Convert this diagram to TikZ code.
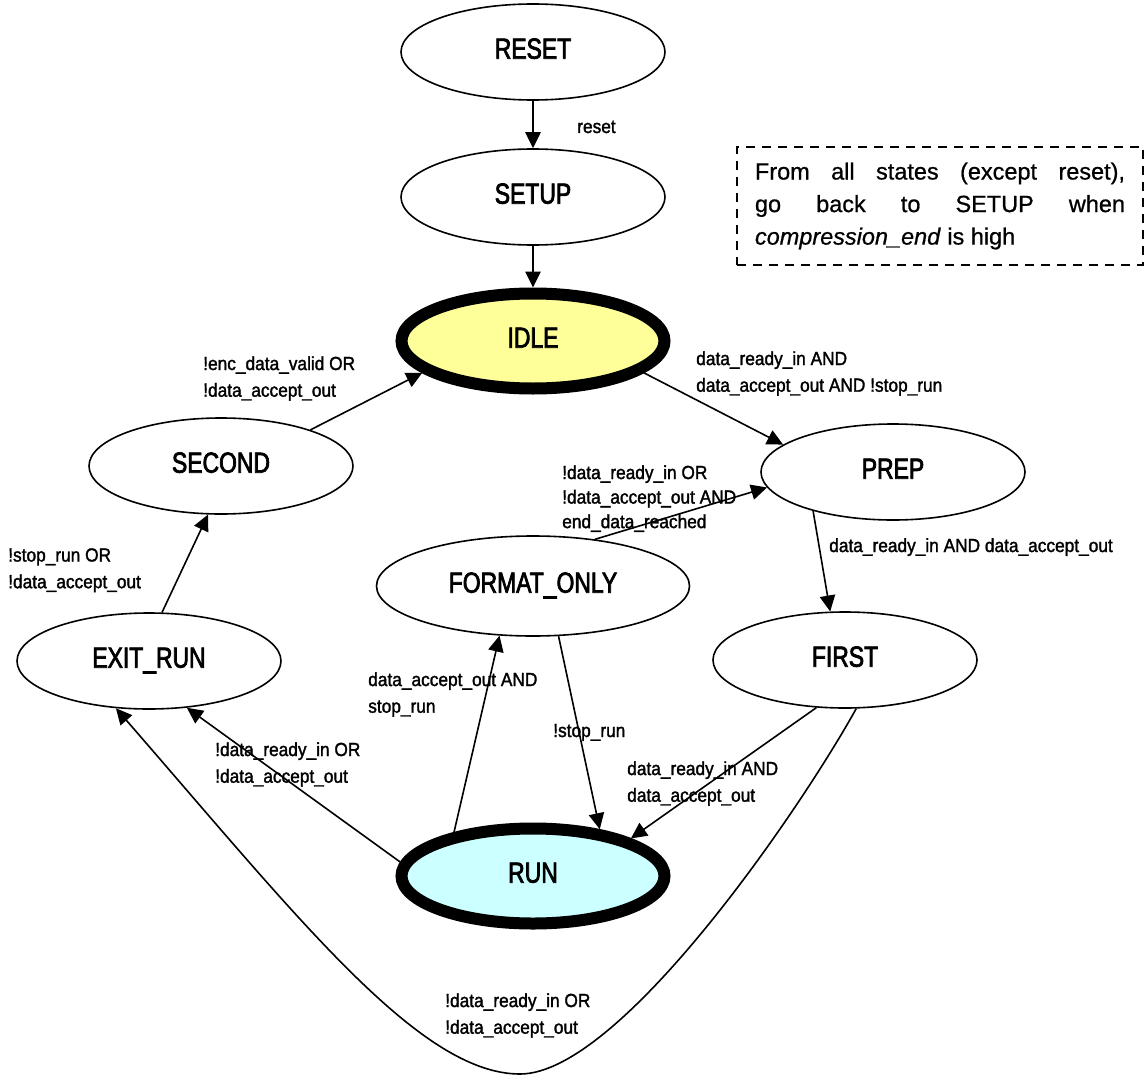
\documentclass[tikz,border=0pt]{standalone}
\usepackage{fontspec}
\setmainfont{Liberation Sans}
\newfontfamily\notefont[FakeBold=0.8]{Liberation Sans}
\newfontfamily\statefont[FakeStretch=0.79,FakeBold=2.5]{Liberation Sans}
\newfontfamily\condfont[FakeStretch=0.91,FakeBold=1.6]{Liberation Sans}
\usetikzlibrary{arrows.meta,shapes.geometric}
\definecolor{idlefill}{HTML}{FFFF99}
\definecolor{runfill}{HTML}{CCFFFF}
\tikzset{
  state/.style={ellipse, draw, line width=1.2pt, inner sep=0pt,
    minimum width=198pt, minimum height=72pt, text height=16pt, text depth=6pt,
    font=\statefont\fontsize{21.75}{26}\selectfont},
  hot/.style={state, line width=9pt, minimum width=197.25pt, minimum height=71.25pt},
  trans/.style={line width=1.2pt, -{Triangle[length=12pt,width=11.5pt]}},
  cond/.style={inner sep=0pt, align=left, anchor=north west,
    font=\condfont\fontsize{14.25}{20}\selectfont},
  cond1/.style={inner sep=0pt, anchor=base west,
    font=\condfont\fontsize{14.25}{20}\selectfont},
}
\begin{document}
\begin{tikzpicture}[x=0.75pt,y=-0.75pt]
\useasboundingbox (0,0) rectangle (1145,1077);

% states
\node[state] (reset) at (533,52) {RESET};
\node[state] (setup) at (533,197) {SETUP};
\node[hot, fill=idlefill] (idle) at (533,341) {IDLE};
\node[state] (second) at (221,466) {SECOND};
\node[state] (prep) at (893,472) {PREP};
\node[state, minimum width=234.75pt, minimum height=75pt] (fmt) at (533,586) {FORMAT\_ONLY};
\node[state] (exitrun) at (149,661) {EXIT\_RUN};
\node[state] (first) at (845,660) {FIRST};
\node[hot, fill=runfill] (run) at (533,876) {RUN};

% global reset note
\node[draw, dash pattern=on 7pt off 5pt, line width=1.5pt, text width=277.5pt,
  inner xsep=13.5pt, inner ysep=0pt, minimum height=88.5pt, align=justify,
  font=\notefont\fontsize{17.6}{24.4}\selectfont] (note) at (940,206)
  {From all states (except reset),\linebreak go back to SETUP when\linebreak
   \textit{compression\_end} is high};

% transitions
\draw[trans] (reset.south) -- (setup.north);
\draw[trans] (setup.south) -- (idle.north);
\draw[trans] (second.22) -- (idle.196);
\draw[trans] (idle.344) -- (prep.166);
\draw[trans] (fmt.37.5) -- (prep.187);
\draw[trans] (prep.206) -- (first.107.5);
\draw[trans] (exitrun.75) -- (second.255);
\draw[trans] (run.174) -- (exitrun.309);
\draw[trans] (run.151) -- (fmt.236);
\draw[trans] (fmt.297) -- (run.35);
\draw[trans] (first.239) -- (run.21.5);
\coordinate (loopbottom) at (520,1074);
\draw[trans] (first.283) .. controls (800,810) and (620,1074) .. (loopbottom)
  .. controls (420,1074) and (300,920) .. (exitrun.235);

% transition conditions
\node[cond1] (lreset) at (577,133) {reset};
\node[cond] (lsecond) at (203,356) {!enc\_data\_valid OR\\!data\_accept\_out};
\node[cond] (lidle) at (696,351) {data\_ready\_in AND\\data\_accept\_out AND !stop\_run};
\node[cond, font=\condfont\fontsize{14.25}{18.4}\selectfont] (lfmt) at (562,465)
  {!data\_ready\_in OR\\!data\_accept\_out AND\\end\_data\_reached};
\node[cond1] (lprep) at (829,552) {data\_ready\_in AND data\_accept\_out};
\node[cond] (lexit) at (8,548) {!stop\_run OR\\!data\_accept\_out};
\node[cond] (lrunexit) at (215,742) {!data\_ready\_in OR\\!data\_accept\_out};
\node[cond] (lrunfmt) at (368,672) {data\_accept\_out AND\\stop\_run};
\node[cond1] (lfmtrun) at (553,737) {!stop\_run};
\node[cond] (lfirst) at (627,761) {data\_ready\_in AND\\data\_accept\_out};
\node[cond] (lloop) at (445,993) {!data\_ready\_in OR\\!data\_accept\_out};
\end{tikzpicture}
\end{document}
